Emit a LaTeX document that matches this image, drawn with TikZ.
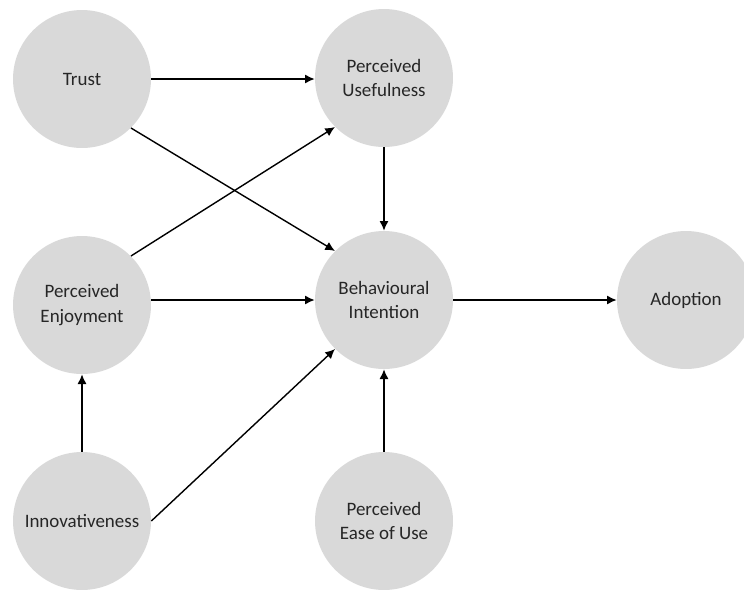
\documentclass[tikz,border=0pt]{standalone}
\usepackage{fontspec}
\setmainfont{Carlito}
\usetikzlibrary{arrows.meta}
\tikzset{
    construct/.style={circle,fill=black!15,minimum size=2.76cm,inner sep=0pt,align=center,
        text=black!85,font=\fontsize{10.8}{13.7}\selectfont},
    link/.style={-{Latex[length=5.5pt,width=5.2pt]},line width=0.8pt}
}
\begin{document}
\begin{tikzpicture}[x=0.02cm,y=-0.02cm]
    \clip (0,0) rectangle (744,589);
    \node[construct] (trust) at (82,79) {Trust};
    \node[construct] (pu) at (384,78) {Perceived\\Usefulness};
    \node[construct] (pe) at (82,305) {Perceived\\Enjoyment};
    \node[construct] (bi) at (384,300) {Behavioural\\Intention};
    \node[construct] (adopt) at (686,300) {Adoption};
    \node[construct] (innov) at (82,521) {Innovativeness};
    \node[construct] (peou) at (384,521) {Perceived\\Ease of Use};
    \draw[link] (trust.east) -- (pu.west|-trust.east);
    \draw[link] (trust.-45) -- (bi.135);
    \draw[link] (pe.45) -- (pu.225);
    \draw[link] (pe.east|-bi.west) -- (bi.west);
    \draw[link] (pu) -- (bi);
    \draw[link] (bi) -- (adopt);
    \draw[link] (innov) -- (pe);
    \draw[link] (innov.east) -- (bi.225);
    \draw[link] (peou) -- (bi);
\end{tikzpicture}
\end{document}
